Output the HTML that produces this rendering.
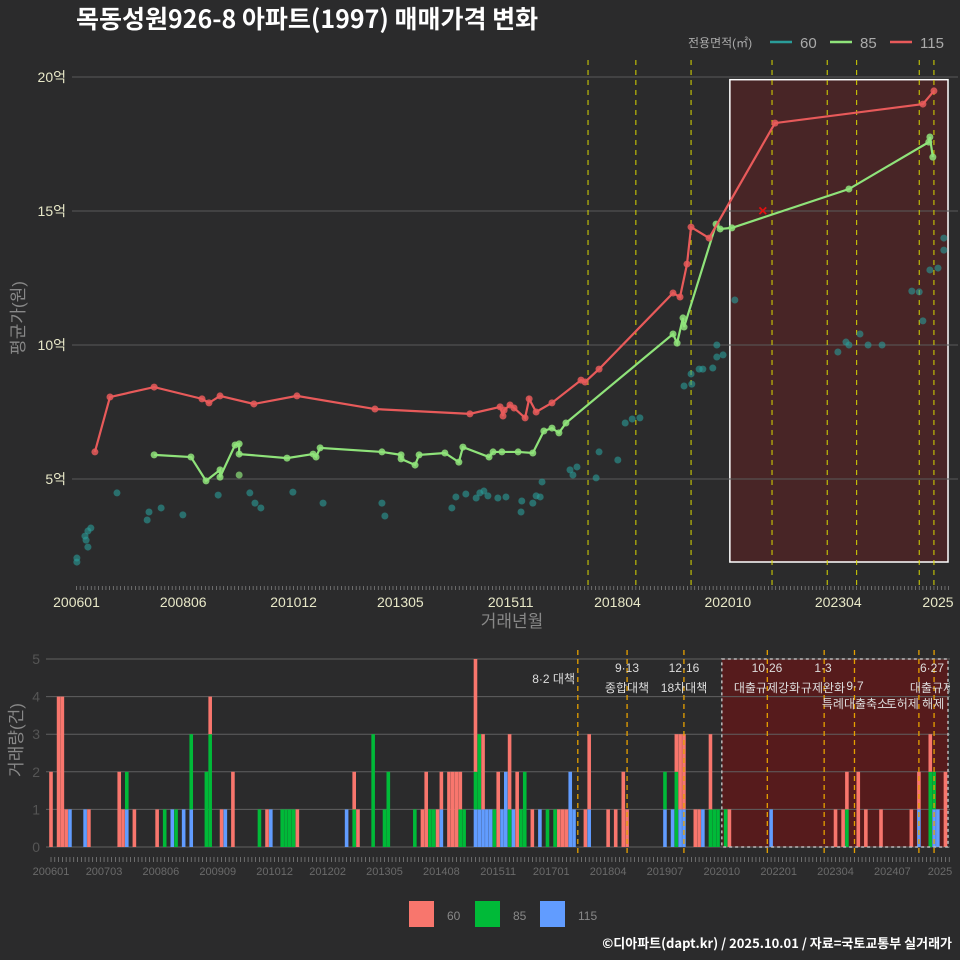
<!DOCTYPE html>
<html><head><meta charset="utf-8">
<style>
html,body{margin:0;padding:0;background:#2b2b2c;}
svg{display:block;font-family:"Liberation Sans","Noto Sans CJK KR",sans-serif;}
</style></head>
<body>
<svg id="c" width="960" height="960" viewBox="0 0 960 960" xmlns="http://www.w3.org/2000/svg">
<rect x="0" y="0" width="960" height="960" fill="#2b2b2c"/>
<text x="76" y="28" font-size="25" font-weight="bold" fill="#ffffff" font-family="'Noto Sans CJK KR',sans-serif">목동성원926-8 아파트(1997) 매매가격 변화</text>
<g>
<text x="688" y="47" font-size="12" fill="#aaaaaa">전용면적(㎡)</text>
<line x1="770" y1="42" x2="792" y2="42" stroke="#2a9d9a" stroke-width="2.5"/>
<text x="800" y="48" font-size="15" fill="#aaaaaa">60</text>
<line x1="830" y1="42" x2="852" y2="42" stroke="#8fe37a" stroke-width="2.5"/>
<text x="860" y="48" font-size="15" fill="#aaaaaa">85</text>
<line x1="890" y1="42" x2="912" y2="42" stroke="#e85a5a" stroke-width="2.5"/>
<text x="920" y="48" font-size="15" fill="#aaaaaa">115</text>
</g>
<g id="topg"></g>
<g id="botg"></g>
<g>
<rect x="409" y="901" width="25" height="26" fill="#f8766d"/>
<text x="447" y="920" font-size="12" fill="#888">60</text>
<rect x="475" y="901" width="25" height="26" fill="#00ba38"/>
<text x="513" y="920" font-size="12" fill="#888">85</text>
<rect x="540" y="901" width="25" height="26" fill="#619cff"/>
<text x="578" y="920" font-size="12" fill="#888">115</text>
</g>
<text x="952" y="948" font-size="13" font-weight="bold" fill="#ffffff" text-anchor="end" font-family="'Noto Sans CJK KR',sans-serif">©디아파트(dapt.kr) / 2025.10.01 / 자료=국토교통부 실거래가</text>
</svg>
<script>
// month index = months since 2006-01; values in 억
const red115 = [[5.0,6.01],[9.1,8.06],[21.1,8.43],[34.1,7.99],[36.0,7.84],[39.0,8.10],[48.2,7.80],[59.9,8.10],[81.1,7.61],[106.9,7.43],[115.1,7.69],[115.9,7.35],[116.2,7.57],[117.8,7.76],[118.9,7.65],[121.9,7.28],[123.0,7.99],[124.9,7.50],[129.2,7.84],[137.1,8.69],[138.2,8.62],[142.0,9.10],[162.1,11.94],[164.0,11.79],[165.9,13.02],[167.0,14.40],[171.9,13.99],[189.8,18.28],[230.0,18.99],[233.0,19.48]];
const green85 = [[21.1,5.90],[31.1,5.82],[35.2,4.93],[39.0,5.34],[39.0,5.07],[43.1,6.27],[44.2,6.31],[44.2,5.93],[57.2,5.78],[64.3,5.93],[65.1,5.82],[66.2,6.16],[83.0,6.01],[88.2,5.90],[88.2,5.75],[92.0,5.52],[93.1,5.90],[100.1,5.97],[103.9,5.63],[105.0,6.19],[112.1,5.82],[113.2,6.01],[115.6,6.01],[120.0,6.01],[124.0,5.97],[127.0,6.79],[129.2,6.90],[131.1,6.72],[133.0,7.09],[162.1,10.41],[163.2,10.07],[164.8,11.01],[165.1,10.67],[173.8,14.51],[174.9,14.33],[178.1,14.37],[209.9,15.82],[231.6,17.57],[231.9,17.76],[232.7,17.01]];
const green85Extra = [[44.2,5.15]];
const teal60 = [[0.1,2.05],[0.1,1.90],[2.3,2.87],[2.6,2.72],[3.1,3.06],[3.9,3.17],[3.1,2.46],[11.0,4.48],[19.2,3.47],[19.7,3.77],[23.0,3.92],[28.9,3.66],[38.5,4.40],[47.1,4.48],[48.5,4.10],[50.1,3.92],[58.8,4.51],[67.0,4.10],[83.0,4.10],[83.8,3.62],[102.0,3.92],[103.1,4.33],[105.8,4.44],[108.6,4.29],[109.6,4.48],[110.7,4.55],[111.8,4.37],[114.5,4.29],[116.7,4.33],[120.8,3.77],[121.0,4.18],[124.0,4.10],[124.9,4.37],[126.5,4.89],[126.0,4.33],[134.1,5.34],[136.0,5.45],[134.9,5.15],[141.2,5.04],[142.0,6.01],[147.1,5.71],[149.1,7.09],[151.0,7.24],[153.1,7.28],[165.1,8.47],[167.2,8.54],[167.0,8.92],[169.2,9.10],[170.2,9.10],[172.9,9.14],[174.0,10.00],[174.0,9.55],[175.7,9.63],[178.9,11.68],[206.9,9.74],[209.1,10.11],[209.9,10.00],[212.9,10.41],[215.1,10.00],[218.9,10.00],[227.0,12.01],[229.0,11.98],[230.0,10.90],[231.9,12.80],[234.1,12.87],[235.7,13.54],[235.7,13.99]];
const cancelMark = [[186.5,15.0]];
const yTicks = [5,10,15,20];
const yTickLabels = ["5억","10억","15억","20억"];
const topXTicks = [0,29,59,88,118,147,177,207,237];
const topXLabels = ["200601","200806","201012","201305","201511","201804","202010","202304","2025"];
const policyMonths = [139,152,167,189,204,212,229,233];
const policyTop = ["8·2 대책","9·13","12·16","10·26","1·3","9·7","","6·27"];
const policyBottom = ["","종합대책","18차대책","대출규제강화","규제완화","특례대출축소","토허제 해제","대출규제"];
const shadeRange = [177,237];
// volume: [monthIdx, c60, c85, c115]
const volume = [[0,2,0,0],[2,4,0,0],[3,4,0,0],[4,1,0,0],[5,0,0,1],[9,0,0,1],[10,1,0,0],[18,2,0,0],[19,1,0,0],[20,0,1,1],[22,1,0,0],[28,1,0,0],[30,0,1,0],[32,0,0,1],[33,0,1,0],[35,0,0,1],[37,0,2,1],[41,0,2,0],[42,1,3,0],[45,1,0,0],[46,0,0,1],[48,2,0,0],[55,0,1,0],[57,1,0,0],[58,0,0,1],[61,0,1,0],[62,0,1,0],[63,0,1,0],[64,0,1,0],[65,1,0,0],[78,0,0,1],[80,1,1,0],[81,1,0,0],[85,0,3,0],[88,0,1,0],[89,0,2,0],[96,0,1,0],[98,1,0,0],[99,2,0,0],[100,0,1,0],[101,0,1,0],[102,1,0,0],[103,1,0,1],[105,2,0,0],[106,2,0,0],[107,2,0,0],[108,1,1,0],[109,0,1,0],[112,3,1,1],[113,0,2,1],[114,2,0,1],[115,0,0,1],[116,0,0,1],[117,0,1,0],[118,2,0,0],[119,0,0,1],[120,0,0,2],[121,2,1,0],[122,0,0,1],[123,2,0,0],[124,0,1,0],[125,0,2,0],[127,1,0,0],[129,0,0,1],[131,0,1,0],[133,0,1,0],[134,1,0,0],[135,1,0,0],[136,1,0,0],[137,0,0,2],[138,0,0,1],[141,1,0,0],[142,2,0,1],[147,1,0,0],[149,1,0,0],[151,2,0,0],[152,1,0,0],[162,0,1,1],[164,0,0,1],[165,1,2,0],[166,2,0,1],[167,2,0,1],[170,1,0,0],[171,1,0,0],[172,0,0,1],[174,2,1,0],[175,0,1,0],[176,0,1,0],[178,0,1,0],[179,1,0,0],[190,0,0,1],[207,1,0,0],[209,1,0,0],[210,1,1,0],[213,2,0,0],[215,1,0,0],[219,1,0,0],[227,1,0,0],[229,1,0,1],[232,1,2,0],[233,0,1,1],[234,0,0,1],[236,2,0,0]];
const volTicks = [0,1,2,3,4,5];
const botXTicks = [0,14,29,44,59,73,88,103,118,132,147,162,177,192,207,222,237];
const botXLabels = ["200601","200703","200806","200909","201012","201202","201305","201408","201511","201701","201804","201907","202010","202201","202304","202407","2025"];

const NS="http://www.w3.org/2000/svg";
function mk(parent,tag,attrs,text){const el=document.createElementNS(NS,tag);for(const k in attrs)el.setAttribute(k,attrs[k]);if(text!==undefined)el.textContent=text;parent.appendChild(el);return el;}
const topG=document.getElementById('topg'), botG=document.getElementById('botg');

const tx=m=>76.5+3.68*m, ty=v=>479-(v-5)*26.8;
const TL=72,TR=958;
let e;
e=mk(topG,'rect',{x:tx(shadeRange[0])+2,y:ty(19.9),width:948-tx(shadeRange[0])-2,height:562-ty(19.9),fill:'rgba(120,30,30,0.38)',stroke:'#ffffff','stroke-width':1.5});


yTicks.forEach((v,i)=>{
  e=mk(topG,'line',{x1:TL,x2:TR,y1:ty(v),y2:ty(v),stroke:'#5a5a5a','stroke-width':1});
  
  
  e=mk(topG,'text',{x:66,y:ty(v)+5,'font-size':14,fill:'#e8e8c8','text-anchor':'end'},yTickLabels[i]);
  
  
});
for(let m=0;m<=237;m++){
  e=mk(topG,'line',{x1:tx(m),x2:tx(m),y1:586,y2:590,stroke:'#888','stroke-width':0.7});
  
  
}
topXTicks.forEach((m,i)=>{
  e=mk(topG,'text',{x:Math.min(tx(m),938),y:607,'font-size':14,fill:'#e8e8c8','text-anchor':'middle'},topXLabels[i]);
  
  
});
e=mk(topG,'text',{x:512,y:627,'font-size':17,fill:'#888','text-anchor':'middle'},'거래년월');


e=mk(topG,'text',{x:0,y:0,'font-size':17,fill:'#888','text-anchor':'middle',transform:'translate(24,318) rotate(-90)'},'평균가(원)');


policyMonths.forEach(m=>{
  e=mk(topG,'line',{x1:tx(m),x2:tx(m),y1:60,y2:586,stroke:'#d8d800','stroke-width':1,'stroke-dasharray':'5,5'});
  
  
});
function series(data,color,name,op){
  e=mk(topG,'polyline',{points:data.map(d=>tx(d[0])+','+ty(d[1])).join(' '),fill:'none',stroke:color,'stroke-width':2.2,opacity:op});
  
  
  data.forEach(d=>{
    e=mk(topG,'circle',{cx:tx(d[0]),cy:ty(d[1]),r:3.5,fill:color,opacity:op*0.85});
    
    
  });
}
teal60.forEach(d=>{
  e=mk(topG,'circle',{cx:tx(d[0]),cy:ty(d[1]),r:3.5,fill:'#2a9d9a',opacity:0.6});
  
  
});
series(green85,'#8fe37a','series-85',1);
green85Extra.forEach(d=>{
  e=mk(topG,'circle',{cx:tx(d[0]),cy:ty(d[1]),r:3.5,fill:'#8fe37a',opacity:0.7});
  
  
});
series(red115,'#e85a5a','series-115',1);
cancelMark.forEach(d=>{
  e=mk(topG,'text',{x:tx(d[0]),y:ty(d[1])+5,'font-size':16,'font-weight':'bold',fill:'#e01010','text-anchor':'middle'},'×');
  
  
});

const bx=m=>51+3.79*m, by=c=>847-c*37.6;
const BL=46,BR=950;
e=mk(botG,'rect',{x:bx(shadeRange[0]),y:by(5),width:948-bx(shadeRange[0]),height:by(0)-by(5),fill:'rgba(105,22,22,0.7)'});


volTicks.forEach(v=>{
  e=mk(botG,'line',{x1:BL,x2:BR,y1:by(v),y2:by(v),stroke:'#606060','stroke-width':1});
  
  
  e=mk(botG,'text',{x:40,y:by(v)+5,'font-size':14,fill:'#555','text-anchor':'end'},String(v));
  
  
});
const colors=['#f8766d','#00ba38','#619cff'];
const names=['60','85','115'];
volume.forEach(d=>{
  let base=0;
  [3,2,1].forEach(k=>{
    const c=d[k]; if(!c) return;
    e=mk(botG,'rect',{x:bx(d[0])-1.8,y:by(base+c),width:3.6,height:by(base)-by(base+c),fill:colors[k-1]});
    
    
    base+=c;
  });
});
e=mk(botG,'rect',{x:bx(shadeRange[0]),y:by(5),width:948-bx(shadeRange[0]),height:by(0)-by(5),fill:'none',stroke:'#bbbbbb','stroke-width':1.5,'stroke-dasharray':'3,3'});


policyMonths.forEach((m,i)=>{
  e=mk(botG,'line',{x1:bx(m),x2:bx(m),y1:650,y2:856,stroke:'#e6a000','stroke-width':1.3,'stroke-dasharray':'5,4'});
  
  
});
const annoTop=[[575,683,'end'],[627,672,'middle'],[684,672,'middle'],[767,672,'middle'],[823,672,'middle'],[855,690,'middle'],[0,0,'middle'],[932,672,'middle']];
const annoBot=[[0,0],[627,692],[684,692],[767,692],[823,692],[855,708],[915,708],[932,692]];
policyMonths.forEach((m,i)=>{
  if(policyTop[i]){
    e=mk(botG,'text',{x:annoTop[i][0],y:annoTop[i][1],'font-size':12,fill:'#dddddd','text-anchor':annoTop[i][2]},policyTop[i]);
    
    
  }
  if(policyBottom[i]){
    e=mk(botG,'text',{x:annoBot[i][0],y:annoBot[i][1],'font-size':12,fill:'#dddddd','text-anchor':'middle'},policyBottom[i]);
    
    
  }
});
for(let m=0;m<=237;m++){
  e=mk(botG,'line',{x1:bx(m),x2:bx(m),y1:857,y2:862,stroke:'#888','stroke-width':0.7});
  
  
}
botXTicks.forEach((m,i)=>{
  e=mk(botG,'text',{x:Math.min(bx(m),940),y:875,'font-size':11,fill:'#6a6a6a','text-anchor':'middle'},botXLabels[i]);
  
  
});
e=mk(botG,'text',{x:0,y:0,'font-size':17,fill:'#888','text-anchor':'middle',transform:'translate(22,740) rotate(-90)'},'거래량(건)');


e=mk(botG,'rect',{x:950,y:645,width:10,height:215,fill:'#2b2b2c'});


</script>
</body></html>
